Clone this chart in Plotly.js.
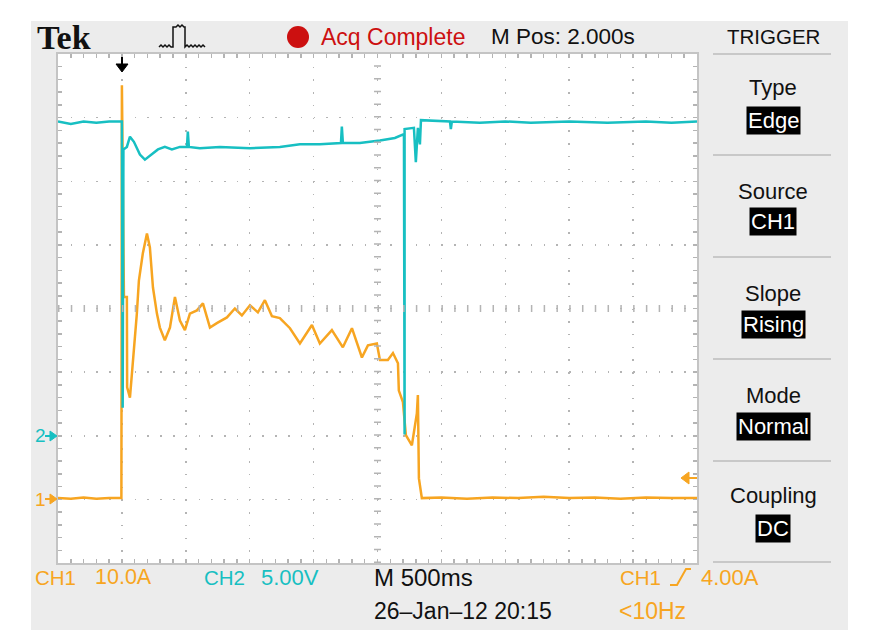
<!DOCTYPE html>
<html><head><meta charset="utf-8">
<script src="https://cdn.plot.ly/plotly-3.0.1.min.js"></script>
<style>
html,body{margin:0;padding:0;background:#ffffff;}
#chart{position:absolute;left:0;top:0;width:871px;height:630px;}
</style></head><body><div id="chart"></div>
<script>
// ---- CH1 (current, A) ----
const ch1Time = [-0.5,-0.4,-0.3,-0.2,-0.1,-0.004,0.0,0.012,0.016,0.039,0.041,0.063,0.086,0.117,0.133,0.164,0.196,0.219,0.243,0.274,0.297,0.336,0.376,0.415,0.454,0.493,0.532,0.587,0.634,0.689,0.743,0.822,0.884,0.939,1.002,1.064,1.119,1.174,1.236,1.315,1.393,1.487,1.549,1.643,1.729,1.800,1.878,1.925,1.995,2.019,2.081,2.121,2.160,2.167,2.199,2.222,2.269,2.293,2.308,2.316,2.324,2.347,2.5,2.7,2.9,3.1,3.3,3.5,3.7,3.9,4.1,4.3,4.5];
const ch1Amps = [0.2,0.1,0.3,0.1,0.2,0.2,65.1,44.3,31.8,31.8,17.6,16.0,21.4,29.2,34.4,38.7,41.8,39.6,33.3,29.2,27.0,25.0,27.0,31.8,28.1,26.6,29.2,29.7,30.8,27.0,27.7,28.6,30.0,28.9,30.5,29.4,31.3,28.8,28.5,26.9,24.5,27.4,24.5,26.6,23.9,26.9,22.3,24.2,24.5,21.9,21.9,23.0,21.4,17.1,15.3,10.1,8.5,11.3,13.5,16.4,3.3,0.2,0.3,0.1,0.3,0.2,0.4,0.2,0.3,0.1,0.3,0.2,0.2];
// ---- CH2 (voltage, V) ----
const ch2Time = [-0.5,-0.4,-0.3,-0.2,-0.1,0.0,0.006,0.012,0.039,0.063,0.094,0.141,0.180,0.219,0.282,0.336,0.391,0.454,0.509,0.516,0.524,0.610,0.767,1.002,1.236,1.393,1.549,1.714,1.721,1.729,1.862,2.019,2.136,2.207,2.212,2.212,2.285,2.300,2.316,2.332,2.340,2.567,2.574,2.582,2.8,3.0,3.2,3.5,3.8,4.1,4.3,4.5];
const ch2Volts = [24.7,24.5,24.7,24.6,24.7,24.7,2.2,22.5,22.7,23.5,23.1,22.1,21.7,22.0,22.5,22.7,22.5,22.7,22.7,23.9,22.7,22.6,22.7,22.6,22.7,22.9,22.9,23.0,24.3,23.0,23.0,23.2,23.4,23.7,0.1,24.1,24.2,21.5,24.2,22.9,24.8,24.7,24.1,24.7,24.6,24.7,24.6,24.7,24.6,24.7,24.6,24.7];

// ---- screen texts ----
const brandText = "Tek";
const statusText = "Acq Complete";
const posText = "M Pos: 2.000s";
const menuTitle = "TRIGGER";
const menuLabels = ["Type","Source","Slope","Mode","Coupling"];
const menuValues = ["Edge","CH1","Rising","Normal","DC"];
const ch1Scale = ["CH1","10.0A"];
const ch2Scale = ["CH2","5.00V"];
const timeScale = "M 500ms";
const dateText = "26–Jan–12 20:15";
const trigText = ["CH1","4.00A"];
const freqText = "<10Hz";

const ORANGE = "#f7a521", CYAN = "#17bfc2", RED = "#cc1010";
const FONT = "'Liberation Sans', Arial, sans-serif";

// page-pixel -> paper helpers (plot area 58..697 x 54..563)
const PL = 58, PT = 54, PW = 639, PH = 509;
const fx = x => (x - PL) / PW;
const fy = y => (PT + PH - y) / PH;
function txt(text, x, y, size, color, anchor, extra) {
  return Object.assign({text: text, x: fx(x), y: fy(y), xref: 'paper', yref: 'paper',
    xanchor: anchor || 'left', yanchor: 'middle', showarrow: false,
    font: {family: FONT, size: size, color: color}}, extra || {});
}
function path(pts, close) {
  return pts.map((p, i) => (i ? 'L' : 'M') + fx(p[0]).toFixed(5) + ',' + fy(p[1]).toFixed(5)).join(' ') + (close ? ' Z' : '');
}

const annotations = [
  txt(brandText, 35, 38, 34, '#111', 'left', {font: {family: "'Liberation Serif', 'Times New Roman', serif", size: 34, color: '#111', weight: 'bold'}}),
  txt(statusText, 319, 37, 23, RED),
  txt(posText, 489, 37, 22.5, '#111'),
  txt(menuTitle, 773, 37, 20.5, '#111', 'center'),
  txt(ch1Scale[0], 33, 577, 20.5, ORANGE),
  txt(ch1Scale[1], 93, 577, 21.5, ORANGE),
  txt(ch2Scale[0], 202, 577, 20.5, CYAN),
  txt(ch2Scale[1], 259, 577, 22, CYAN),
  txt(timeScale, 372, 577, 24, '#111'),
  txt(dateText, 372, 611, 23, '#111'),
  txt(trigText[0], 618, 577, 20.5, ORANGE),
  txt(trigText[1], 699, 577, 22, ORANGE),
  txt(freqText, 617, 611, 23, ORANGE),
  txt("2", 33, 436, 19, CYAN),
  txt("1", 33, 499, 19, ORANGE)
];
const labelY = [88, 191, 293, 395, 495];
const valueY = [121, 222, 324, 426, 528];
menuLabels.forEach((l, i) => annotations.push(txt(l, 773, labelY[i], 22, '#111', 'center')));
menuValues.forEach((v, i) => annotations.push(txt(v, 773, valueY[i], 22, '#ffffff', 'center', {bgcolor: '#000000', borderpad: 1})));

const GRIDC = '#b4b4b4';
const shapes = [
  // instrument screen background and plot area
  {type: 'rect', layer: 'below', xref: 'paper', yref: 'paper', x0: fx(31), x1: fx(848), y0: fy(631), y1: fy(21), fillcolor: '#ececec', line: {width: 0}},
  {type: 'rect', layer: 'below', xref: 'paper', yref: 'paper', x0: 0, x1: 1, y0: 0, y1: 1, fillcolor: '#ffffff', line: {width: 0}},
  // center crosshair graticule marks
  {type: 'line', xref: 'paper', yref: 'paper', x0: 0, x1: 1, y0: 0.5, y1: 0.5, line: {color: GRIDC, width: 7, dash: '1.5px,11.28px'}},
  {type: 'line', xref: 'paper', yref: 'paper', x0: 0.5, x1: 0.5, y0: 0, y1: 1, line: {color: GRIDC, width: 7, dash: '1.5px,11.225px'}},
  // red status dot
  {type: 'circle', xref: 'paper', yref: 'paper', x0: fx(287), x1: fx(309), y0: fy(48), y1: fy(26), fillcolor: RED, line: {width: 0}},
  // pulse icon
  {type: 'path', xref: 'paper', yref: 'paper', line: {color: '#111', width: 1.5},
   path: path([[159,47],[161,45],[163,47],[165,45],[167,47],[169,45],[171,47],[173,47],[173,27],[176,27],[178,25],[180,27],[182,25],[184,27],[185,27],[185,47],[187,45],[189,47],[191,45],[193,47],[195,45],[197,47],[199,45],[201,47],[203,45],[205,47]])},
  // trigger position arrow
  {type: 'path', xref: 'paper', yref: 'paper', line: {color: '#000', width: 2}, path: path([[122,57],[122,65]])},
  {type: 'path', xref: 'paper', yref: 'paper', fillcolor: '#000', line: {color: '#000', width: 1}, path: path([[116,64],[128,64],[122,72]], true)},
  // trigger level arrow (right)
  {type: 'path', xref: 'paper', yref: 'paper', line: {color: ORANGE, width: 2}, path: path([[688,478],[697,478]])},
  {type: 'path', xref: 'paper', yref: 'paper', fillcolor: ORANGE, line: {color: ORANGE, width: 1}, path: path([[681,478],[689,472],[689,484]], true)},
  // ground markers
  {type: 'path', xref: 'paper', yref: 'paper', line: {color: CYAN, width: 2}, path: path([[45,436],[51,436]])},
  {type: 'path', xref: 'paper', yref: 'paper', fillcolor: CYAN, line: {color: CYAN, width: 1}, path: path([[57,436],[50,431],[50,441]], true)},
  {type: 'path', xref: 'paper', yref: 'paper', line: {color: ORANGE, width: 2}, path: path([[45,499],[51,499]])},
  {type: 'path', xref: 'paper', yref: 'paper', fillcolor: ORANGE, line: {color: ORANGE, width: 1}, path: path([[57,499],[50,494],[50,504]], true)},
  // slope icon
  {type: 'path', xref: 'paper', yref: 'paper', line: {color: ORANGE, width: 2}, path: path([[670,585],[677,585],[686,569],[691,569]])}
];
// menu separators
[54, 155, 257, 359, 461, 562].forEach(y => shapes.push({type: 'line', xref: 'paper', yref: 'paper', x0: fx(713), x1: fx(831), y0: fy(y), y1: fy(y), line: {color: '#c8c8c8', width: 2}}));

const axCommon = {
  showticklabels: false, zeroline: false, showline: true, linecolor: '#c4c4c4', linewidth: 2, mirror: 'ticks',
  ticks: 'inside', ticklen: 4, tickwidth: 1.5, tickcolor: '#b4b4b4',
  showgrid: true, gridcolor: GRIDC, gridwidth: 1.5, fixedrange: true
};
const layout = {
  width: 871, height: 630,
  margin: {l: 58, r: 174, t: 54, b: 67, pad: 0},
  paper_bgcolor: '#ffffff', plot_bgcolor: '#ffffff',
  showlegend: false, hovermode: false,
  xaxis: Object.assign({}, axCommon, {range: [-0.5, 4.5], tick0: 0, dtick: 0.5, griddash: '1.5px,11.225px',
    minor: {dtick: 0.1, ticks: 'inside', ticklen: 4, tickwidth: 1.5, tickcolor: '#b4b4b4', showgrid: false}}),
  yaxis: Object.assign({}, axCommon, {range: [-10, 70], tick0: 0, dtick: 10, griddash: '1.5px,11.28px',
    minor: {dtick: 2, ticks: 'inside', ticklen: 4, tickwidth: 1.5, tickcolor: '#b4b4b4', showgrid: false}}),
  yaxis2: {overlaying: 'y', range: [-10, 30], visible: false, fixedrange: true},
  annotations: annotations,
  shapes: shapes
};
const traces = [
  {x: ch1Time, y: ch1Amps, type: 'scatter', mode: 'lines', name: 'CH1', line: {color: ORANGE, width: 2.5}, xaxis: 'x', yaxis: 'y'},
  {x: ch2Time, y: ch2Volts, type: 'scatter', mode: 'lines', name: 'CH2', line: {color: CYAN, width: 2.5}, xaxis: 'x', yaxis: 'y2'}
];
Plotly.newPlot('chart', traces, layout, {staticPlot: true, displayModeBar: false});
</script></body></html>
